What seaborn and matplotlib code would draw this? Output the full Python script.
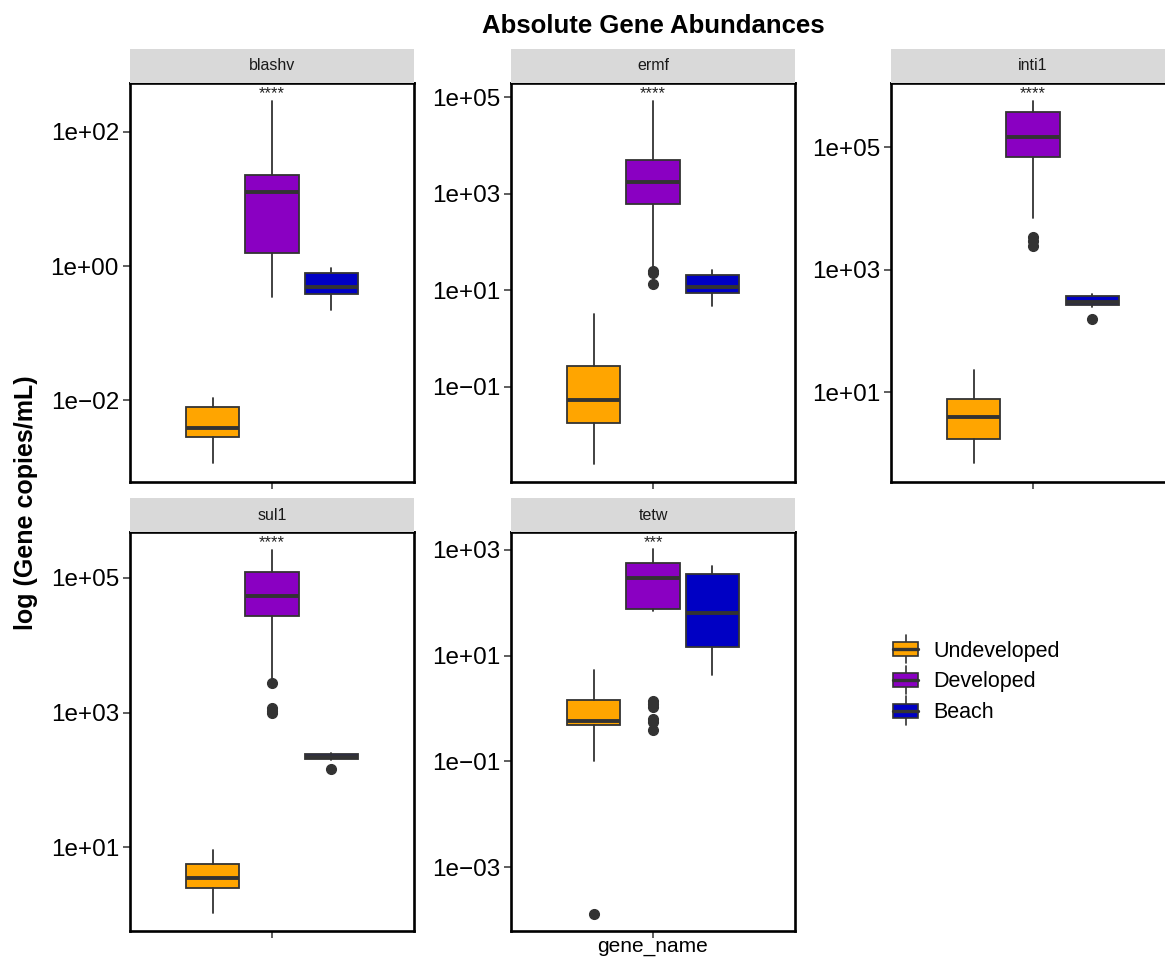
import matplotlib
matplotlib.use("Agg")
import math
import matplotlib.pyplot as plt
import seaborn as sns
from matplotlib.patches import Patch, Rectangle
from matplotlib.lines import Line2D
from matplotlib.legend_handler import HandlerBase
from matplotlib.ticker import FixedLocator, FuncFormatter, NullLocator
import matplotlib.transforms as mtransforms

genes = ["blashv", "ermf", "inti1", "sul1", "tetw"]
sites = ["Undeveloped", "Developed", "Beach"]
signif = ["****", "****", "****", "****", "***"]

# box statistics, one row per gene, one value per site (Undeveloped, Developed, Beach)
whislo = [
    [0.00115, 0.347, 0.219],
    [0.00257, 30.2, 4.8],
    [0.69, 6918, 245],
    [1.07, 3162, 200],
    [0.1, 69, 4.27],
]
q1 = [
    [0.00282, 1.55, 0.38],
    [0.0178, 617, 8.7],
    [1.7, 69180, 269],
    [2.5, 26900, 204],
    [0.48, 76, 14.5],
]
med = [
    [0.0038, 12.6, 0.49],
    [0.0537, 1738, 11.7],
    [3.9, 144500, 295],
    [3.5, 53700, 219],
    [0.575, 295, 63],
]
q3 = [
    [0.0079, 22.9, 0.79],
    [0.269, 5012, 20.9],
    [7.6, 371500, 372],
    [5.75, 123000, 240],
    [1.48, 562, 347],
]
whishi = [
    [0.0107, 288, 0.93],
    [3.24, 83180, 26.3],
    [22.9, 562300, 398],
    [9.3, 263000, 251],
    [5.25, 1047, 501],
]
fliers = [
    [[], [], []],
    [[], [25.1, 22.4, 13.2], []],
    [[], [3388, 2884, 2399], [155]],
    [[], [2754, 1175, 1047, 977], [145]],
    [[0.000129], [1.41, 1.23, 1.05, 0.62, 0.55, 0.40], []],
]

# y tick exponents and axis limits (log10) per facet
tick_exps = [[-2, 0, 2], [-1, 1, 3, 5], [1, 3, 5], [1, 3, 5], [-3, -1, 1, 3]]
ylims = [(-3.22, 2.73), (-2.97, 5.29), (-0.47, 6.05), (-0.24, 5.68), (-4.21, 3.34)]

colors = ["#FFA500", "#8A00C2", "#0000C4"]
edge = "#333333"

sns.set_theme(style="white")
plt.rcParams["font.family"] = ["Liberation Sans", "DejaVu Sans"]
plt.rcParams["text.color"] = "black"

W, H = 1165, 958
fig = plt.figure(figsize=(W / 100, H / 100), dpi=100)

col_x = [130, 511, 891]
row_top = [83, 532]
pw, ph, sh = 284, 399, 34


def fmt(v, pos):
    e = int(round(math.log10(v)))
    return f"1e{e:+03d}".replace("-", "\u2212")


class BoxKey(HandlerBase):
    def create_artists(self, legend, orig_handle, xdescent, ydescent,
                       width, height, fontsize, trans):
        x0, y0 = -xdescent, -ydescent
        fc = orig_handle.get_facecolor()
        whisk = Line2D([x0 + width / 2] * 2, [y0 - 0.4 * height, y0 + 1.4 * height],
                       color=edge, lw=1.2, transform=trans)
        box = Rectangle((x0, y0 + 0.05 * height), width, 0.9 * height,
                        facecolor=fc, edgecolor=edge, lw=1.2, transform=trans)
        mid = Line2D([x0, x0 + width], [y0 + height / 2] * 2,
                     color=edge, lw=2.4, transform=trans)
        return [whisk, box, mid]


for i, gene in enumerate(genes):
    r, c = divmod(i, 3)
    x0 = col_x[c]
    yt = row_top[r]
    ax = fig.add_axes([x0 / W, 1 - (yt + ph) / H, pw / W, ph / H])
    stats = []
    for j in range(3):
        stats.append(dict(whislo=whislo[i][j], q1=q1[i][j], med=med[i][j],
                          q3=q3[i][j], whishi=whishi[i][j], fliers=fliers[i][j]))
    res = ax.bxp(stats, positions=[-0.25, 0, 0.25], widths=0.225,
                 patch_artist=True, showcaps=False,
                 boxprops=dict(edgecolor=edge, linewidth=1.3),
                 medianprops=dict(color=edge, linewidth=2.8),
                 whiskerprops=dict(color=edge, linewidth=1.3),
                 flierprops=dict(marker="o", markerfacecolor=edge,
                                 markeredgecolor=edge, markersize=7))
    for patch, col in zip(res["boxes"], colors):
        patch.set_facecolor(col)
    ax.set_yscale("log")
    lo, hi = ylims[i]
    ax.set_ylim(10 ** lo, 10 ** hi)
    ax.set_xlim(-0.6, 0.6)
    ax.yaxis.set_major_locator(FixedLocator([10.0 ** e for e in tick_exps[i]]))
    ax.yaxis.set_major_formatter(FuncFormatter(fmt))
    ax.yaxis.set_minor_locator(NullLocator())
    ax.set_xticks([0])
    ax.set_xticklabels([""])
    ax.tick_params(axis="both", length=5, width=1.1, color=edge,
                   labelsize=17.5, labelcolor="black", pad=3,
                   left=True, bottom=True)
    for sp in ax.spines.values():
        sp.set_color("black")
        sp.set_linewidth(1.9)
    ax.set_facecolor("white")
    trans = mtransforms.blended_transform_factory(ax.transData, ax.transAxes)
    ax.text(0, 0.962, signif[i], transform=trans, ha="center", va="baseline",
            fontsize=12, color="#222222")

    # facet strip
    sax = fig.add_axes([x0 / W, 1 - yt / H, pw / W, sh / H])
    sax.set_facecolor("#D9D9D9")
    sax.set_xticks([])
    sax.set_yticks([])
    for sp in sax.spines.values():
        sp.set_visible(False)
    sax.text(0.5, 0.5, gene, ha="center", va="center", fontsize=11.5,
             color="#1a1a1a", transform=sax.transAxes)

fig.text(653 / W, 1 - 26 / H, "Absolute Gene Abundances", ha="center",
         va="center", fontsize=18.5, fontweight="bold", color="black")
fig.text(26 / W, 1 - 503 / H, "log (Gene copies/mL)", ha="center",
         va="center", rotation=90, fontsize=18, fontweight="bold", color="black")
fig.text(653 / W, 1 - 947 / H, "gene_name", ha="center", va="center",
         fontsize=15, color="black")

handles = [Patch(facecolor=col) for col in colors]
leg = fig.legend(handles, sites, handler_map={Patch: BoxKey()}, loc="center left",
                 bbox_to_anchor=(874 / W, 1 - 682 / H), frameon=False, fontsize=15.5,
                 handlelength=1.15, handleheight=0.75, labelspacing=0.45,
                 handletextpad=0.7)
for t in leg.get_texts():
    t.set_color("black")

fig.savefig("out.png", dpi=100)
